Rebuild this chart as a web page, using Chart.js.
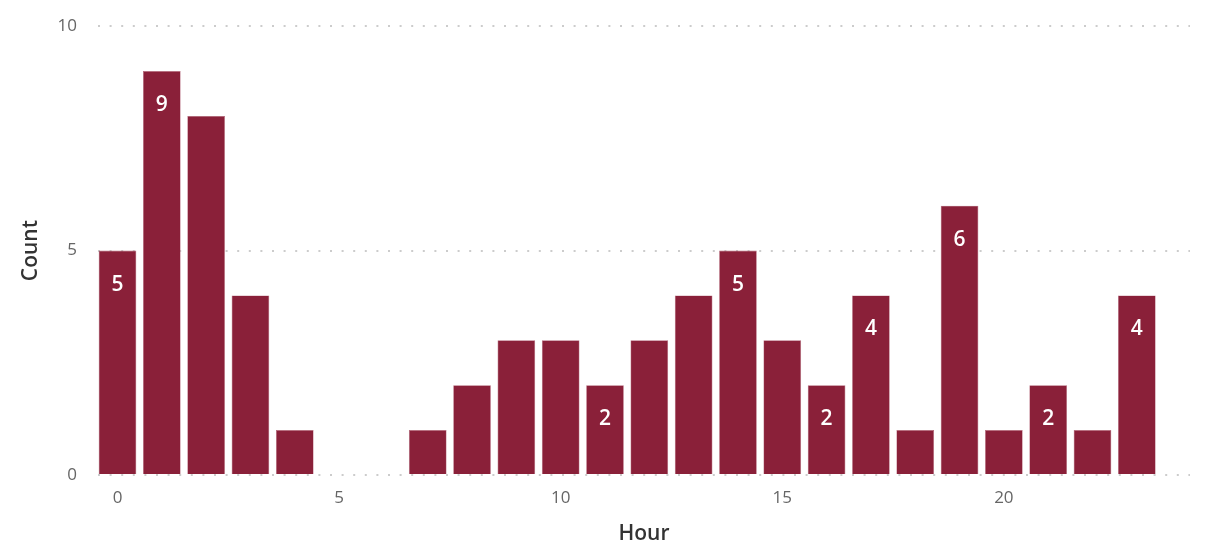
<!DOCTYPE html>
<html>
<head>
<meta charset="utf-8">
<script src="https://cdn.jsdelivr.net/npm/chart.js@4/dist/chart.umd.min.js"></script>
<style>
  html, body { margin: 0; padding: 0; background: #fff; overflow: hidden; }
  #wrap { width: 1206px; height: 554px; margin-top: -5px; }
</style>
</head>
<body>
<div id="wrap"><canvas id="grafico"></canvas></div>
<script>
const horas = [0, 1, 2, 3, 4, 5, 6, 7, 8, 9, 10, 11, 12, 13, 14, 15, 16, 17, 18, 19, 20, 21, 22, 23];
const contagem = [5, 9, 8, 4, 1, 0, 0, 1, 2, 3, 3, 2, 3, 4, 5, 3, 2, 4, 1, 6, 1, 2, 1, 4];
// horas that carry a value label in the original
const horasComRotulo = [0, 1, 11, 14, 16, 17, 19, 21, 23];
const ticksX = [0, 5, 10, 15, 20];
const ticksY = [0, 5, 10];

const corBarra = '#8a2039';
const fonte = '"Open Sans", "Noto Sans", sans-serif';

const rotulos = {
  id: 'rotulos',
  afterDatasetsDraw(chart) {
    const ctx = chart.ctx;
    const meta = chart.getDatasetMeta(0);
    ctx.save();
    ctx.fillStyle = '#ffffff';
    ctx.font = '600 21px ' + fonte;
    ctx.textAlign = 'center';
    ctx.textBaseline = 'middle';
    meta.data.forEach((bar, i) => {
      if (!horasComRotulo.includes(horas[i])) return;
      ctx.fillText(String(contagem[i]), bar.x, bar.y + 34);
    });
    ctx.restore();
  }
};

new Chart(document.getElementById('grafico'), {
  type: 'bar',
  data: {
    datasets: [{
      data: horas.map((h, i) => ({ x: h, y: contagem[i] })),
      backgroundColor: corBarra,
      borderColor: '#b4687a',
      borderWidth: 0.6,
      barPercentage: 0.85,
      categoryPercentage: 1
    }]
  },
  options: {
    responsive: true,
    maintainAspectRatio: false,
    animation: false,
    layout: { padding: { top: 4, right: 16, left: 14, bottom: 0 } },
    plugins: { legend: { display: false }, tooltip: { enabled: false } },
    scales: {
      x: {
        type: 'linear',
        offset: false,
        min: -0.44,
        max: 24.2,
        afterBuildTicks: axis => { axis.ticks = ticksX.map(v => ({ value: v })); },
        afterFit: axis => { axis.height = 74; },
        grid: { display: false, offset: false },
        border: { display: false },
        ticks: { color: '#666', font: { family: fonte, size: 17 }, padding: 5, maxRotation: 0 },
        title: { display: true, text: 'Hour', color: '#333', font: { family: fonte, size: 21, weight: '600' }, padding: { top: 4, bottom: 2 } }
      },
      y: {
        min: 0,
        max: 10,
        afterBuildTicks: axis => { axis.ticks = ticksY.map(v => ({ value: v })); },
        afterFit: axis => { axis.width = 84; },
        grid: { color: '#cccccc', lineWidth: 2, drawTicks: false },
        border: { display: false, dash: [2, 9.6] },
        ticks: { color: '#666', font: { family: fonte, size: 17 }, padding: 21 },
        title: { display: true, text: 'Count', color: '#333', font: { family: fonte, size: 21, weight: '600' }, padding: { bottom: 6 } }
      }
    }
  },
  plugins: [rotulos]
});
</script>
</body>
</html>
